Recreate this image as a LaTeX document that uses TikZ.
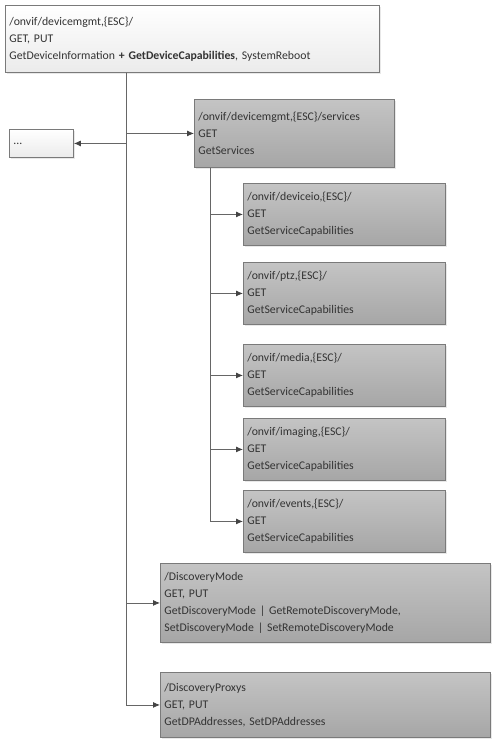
\documentclass[tikz,border=0pt]{standalone}
\usepackage{fontspec}
\setmainfont{Carlito}
\usetikzlibrary{arrows.meta,shadows}
\definecolor{bordergray}{HTML}{7A7A7A}
\definecolor{textgray}{HTML}{333333}
\definecolor{linegray}{HTML}{666666}
\definecolor{tipgray}{HTML}{444444}
\definecolor{gtop}{HTML}{C4C4C4}
\definecolor{gbot}{HTML}{A6A6A6}
\definecolor{wbot}{HTML}{EBEBEB}
\tikzset{
  basebox/.style={draw=bordergray, line width=0.9pt, anchor=north west, align=left,
    inner xsep=4pt, inner ysep=0pt, text=textgray,
    font={\fontsize{11.75}{16.8}\selectfont},
    drop shadow={opacity=0.18, shadow xshift=1.2pt, shadow yshift=-1.2pt}},
  whitebox/.style={basebox, top color=white, bottom color=wbot},
  graybox/.style={basebox, top color=gtop, bottom color=gbot},
  conn/.style={draw=linegray, line width=0.8pt},
  arr/.style={conn, -{Latex[length=7pt,width=6pt,color=tipgray]}}
}
\begin{document}
\begin{tikzpicture}[x=1pt,y=-1pt]
\useasboundingbox (0,0) rectangle (496,739);
\node[whitebox, text width=366pt, minimum height=67pt] (top) at (5,5)
  {/onvif/devicemgmt,\{ESC\}/\\GET, PUT\\GetDeviceInformation \textbf{+ GetDeviceCapabilities}, SystemReboot};
\node[whitebox, text width=56pt, minimum height=28pt] (dots) at (9,129) {...};
\node[graybox, text width=192pt, minimum height=68pt] (services) at (194,99)
  {/onvif/devicemgmt,\{ESC\}/services\\GET\\GetServices};
\node[graybox, text width=194pt, minimum height=62pt] (deviceio) at (243,183)
  {/onvif/deviceio,\{ESC\}/\\GET\\GetServiceCapabilities};
\node[graybox, text width=194pt, minimum height=62pt] (ptz) at (243,262)
  {/onvif/ptz,\{ESC\}/\\GET\\GetServiceCapabilities};
\node[graybox, text width=194pt, minimum height=62pt] (media) at (243,344)
  {/onvif/media,\{ESC\}/\\GET\\GetServiceCapabilities};
\node[graybox, text width=194pt, minimum height=62pt] (imaging) at (243,418)
  {/onvif/imaging,\{ESC\}/\\GET\\GetServiceCapabilities};
\node[graybox, text width=194pt, minimum height=62pt] (events) at (243,490)
  {/onvif/events,\{ESC\}/\\GET\\GetServiceCapabilities};
\node[graybox, text width=322pt, minimum height=79pt] (dmode) at (160,563)
  {/DiscoveryMode\\GET, PUT\\GetDiscoveryMode | GetRemoteDiscoveryMode,\\SetDiscoveryMode | SetRemoteDiscoveryMode};
\node[graybox, text width=322pt, minimum height=65pt] (proxys) at (160,672)
  {/DiscoveryProxys\\GET, PUT\\GetDPAddresses, SetDPAddresses};
\coordinate (t) at ([xshift=121pt]top.south west);
\coordinate (s) at ([xshift=16pt]services.south west);
\draw[arr] (t) |- (services.west);
\draw[arr] (t) |- (dots.east);
\draw[arr] (t) |- (dmode.west);
\draw[arr] (t) |- (proxys.west);
\foreach \b in {deviceio,ptz,media,imaging,events}
  \draw[arr] (s) |- (\b.west);
\end{tikzpicture}
\end{document}
